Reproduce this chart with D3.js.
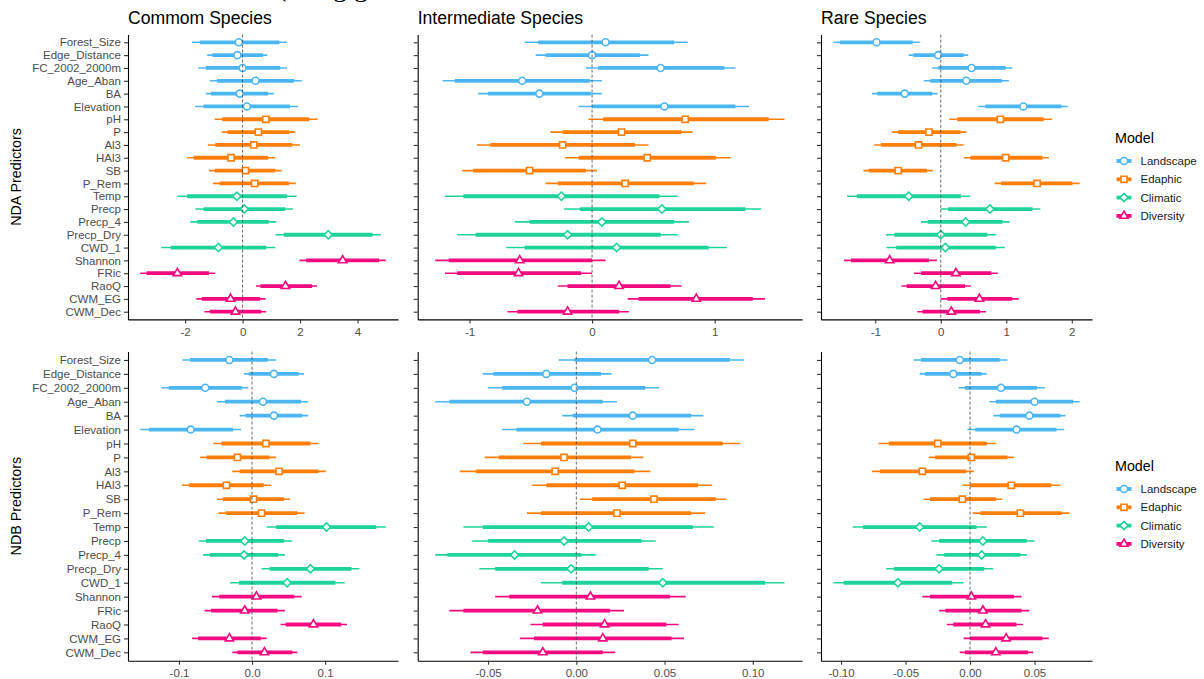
<!DOCTYPE html>
<html>
<head>
<meta charset="utf-8">
<script src="https://cdn.jsdelivr.net/npm/d3@7"></script>
<style>
body { margin: 0; background: #fff; }
svg { display: block; font-family: "Liberation Sans", Arial, sans-serif; }
</style>
</head>
<body>
<svg id="chart" width="1204" height="679"></svg>
<script>
/* globals d3 */

var predictors = ["Forest_Size","Edge_Distance","FC_2002_2000m","Age_Aban","BA","Elevation",
	"pH","P","Al3","HAl3","SB","P_Rem",
	"Temp","Precp","Precp_4","Precp_Dry","CWD_1",
	"Shannon","FRic","RaoQ","CWM_EG","CWM_Dec"];
var models = ["Landscape","Edaphic","Climatic","Diversity"];
var predictorModel = [0,0,0,0,0,0, 1,1,1,1,1,1, 2,2,2,2,2, 3,3,3,3,3];
var speciesTitles = ["Commom Species","Intermediate Species","Rare Species"];
var responseTitles = ["NDA Predictors","NDB Predictors"];

// each row: [low 95%, low 50%, estimate, high 50%, high 95%]
var ndaCommon = [
	[-1.76,-1.49,-0.13,1.28,1.54],[-1.23,-1.05,-0.18,0.71,0.86],[-1.54,-1.28,0.00,1.31,1.54],
	[-1.14,-0.89,0.45,1.79,2.06],[-1.28,-1.10,-0.10,0.89,1.09],[-1.65,-1.36,0.15,1.65,1.93],
	[-0.97,-0.71,0.81,2.32,2.61],[-0.72,-0.52,0.55,1.63,1.84],[-1.21,-0.95,0.39,1.73,2.00],
	[-1.94,-1.70,-0.40,0.89,1.14],[-1.17,-0.96,0.10,1.14,1.36],[-1.03,-0.80,0.42,1.61,1.85],
	[-2.27,-1.93,-0.20,1.54,1.88],[-1.64,-1.36,0.06,1.48,1.75],[-1.82,-1.57,-0.32,0.91,1.17],
	[1.14,1.43,2.98,4.52,4.81],[-2.83,-2.50,-0.84,0.82,1.14],
	[1.98,2.21,3.48,4.75,4.98],[-3.56,-3.34,-2.27,-1.17,-0.95],[0.47,0.62,1.49,2.42,2.59],
	[-1.61,-1.42,-0.42,0.61,0.80],[-1.33,-1.14,-0.25,0.65,0.82]
];
var ndaInter = [
	[-0.55,-0.44,0.11,0.67,0.78],[-0.46,-0.38,0.00,0.39,0.46],[-0.05,0.05,0.56,1.08,1.17],
	[-1.22,-1.12,-0.57,-0.02,0.08],[-0.93,-0.85,-0.43,-0.01,0.08],[-0.11,0.00,0.59,1.17,1.28],
	[-0.03,0.09,0.76,1.44,1.57],[-0.34,-0.24,0.24,0.73,0.82],[-0.94,-0.83,-0.24,0.35,0.46],
	[-0.22,-0.11,0.45,1.01,1.13],[-1.06,-0.97,-0.51,-0.05,0.04],[-0.38,-0.28,0.27,0.83,0.93],
	[-1.20,-1.05,-0.25,0.55,0.70],[-0.23,-0.10,0.57,1.25,1.38],[-0.63,-0.51,0.08,0.67,0.79],
	[-1.10,-0.95,-0.20,0.56,0.70],[-0.70,-0.55,0.20,0.95,1.10],
	[-1.28,-1.17,-0.59,0.00,0.11],[-1.20,-1.10,-0.60,-0.09,0.00],[-0.28,-0.20,0.22,0.64,0.73],
	[0.29,0.38,0.85,1.31,1.41],[-0.69,-0.61,-0.20,0.22,0.30]
];
var ndaRare = [
	[-1.64,-1.54,-0.98,-0.43,-0.32],[-0.49,-0.42,-0.04,0.35,0.42],[-0.13,-0.04,0.47,0.99,1.09],
	[-0.26,-0.16,0.39,0.93,1.04],[-1.05,-0.97,-0.55,-0.13,-0.05],[0.57,0.68,1.26,1.84,1.94],
	[0.13,0.25,0.91,1.57,1.70],[-0.75,-0.65,-0.18,0.30,0.39],[-1.02,-0.91,-0.34,0.24,0.35],
	[0.35,0.45,0.99,1.55,1.65],[-1.18,-1.10,-0.65,-0.21,-0.12],[0.82,0.92,1.47,2.01,2.12],
	[-1.43,-1.28,-0.49,0.31,0.45],[0.00,0.11,0.75,1.40,1.52],[-0.30,-0.20,0.38,0.94,1.05],
	[-0.84,-0.71,0.00,0.71,0.84],[-0.83,-0.68,0.07,0.84,0.98],
	[-1.48,-1.37,-0.78,-0.18,-0.06],[-0.41,-0.30,0.23,0.77,0.87],[-0.60,-0.52,-0.08,0.37,0.46],
	[0.00,0.10,0.59,1.09,1.19],[-0.36,-0.28,0.16,0.60,0.69]
];
var ndbCommon = [
	[-0.095,-0.085,-0.031,0.022,0.033],[-0.011,-0.004,0.030,0.064,0.071],[-0.124,-0.114,-0.064,-0.014,-0.005],
	[-0.048,-0.037,0.015,0.067,0.077],[-0.017,-0.009,0.030,0.069,0.077],[-0.153,-0.141,-0.084,-0.026,-0.015],
	[-0.053,-0.042,0.019,0.080,0.091],[-0.071,-0.062,-0.020,0.024,0.033],[-0.027,-0.017,0.037,0.091,0.101],
	[-0.096,-0.086,-0.035,0.016,0.026],[-0.048,-0.040,0.002,0.044,0.052],[-0.046,-0.036,0.013,0.062,0.072],
	[0.020,0.033,0.102,0.170,0.183],[-0.073,-0.063,-0.010,0.044,0.055],[-0.067,-0.058,-0.011,0.036,0.045],
	[0.013,0.024,0.080,0.136,0.147],[-0.030,-0.018,0.048,0.114,0.127],
	[-0.055,-0.045,0.006,0.058,0.068],[-0.065,-0.056,-0.010,0.035,0.045],[0.039,0.046,0.084,0.122,0.130],
	[-0.082,-0.074,-0.031,0.012,0.020],[-0.027,-0.020,0.017,0.055,0.062]
];
var ndbInter = [
	[-0.010,-0.001,0.043,0.087,0.095],[-0.053,-0.047,-0.017,0.014,0.020],[-0.050,-0.042,-0.001,0.039,0.047],
	[-0.080,-0.072,-0.028,0.015,0.023],[-0.008,-0.002,0.032,0.065,0.072],[-0.042,-0.034,0.012,0.058,0.067],
	[-0.030,-0.020,0.032,0.083,0.093],[-0.052,-0.044,-0.007,0.031,0.038],[-0.066,-0.057,-0.012,0.033,0.042],
	[-0.025,-0.017,0.026,0.069,0.077],[0.002,0.009,0.044,0.079,0.085],[-0.028,-0.020,0.023,0.065,0.073],
	[-0.064,-0.053,0.007,0.066,0.078],[-0.059,-0.050,-0.007,0.037,0.045],[-0.080,-0.073,-0.035,0.003,0.011],
	[-0.055,-0.046,-0.003,0.041,0.049],[-0.020,-0.008,0.049,0.107,0.118],
	[-0.046,-0.038,0.008,0.053,0.062],[-0.072,-0.064,-0.022,0.019,0.027],[-0.026,-0.019,0.016,0.051,0.058],
	[-0.032,-0.024,0.015,0.054,0.061],[-0.060,-0.053,-0.019,0.015,0.022]
];
var ndbRare = [
	[-0.044,-0.038,-0.008,0.023,0.029],[-0.039,-0.035,-0.013,0.009,0.013],[-0.009,-0.004,0.024,0.052,0.058],
	[0.015,0.020,0.050,0.080,0.085],[0.018,0.023,0.046,0.070,0.074],[-0.002,0.004,0.036,0.067,0.073],
	[-0.071,-0.063,-0.025,0.013,0.020],[-0.032,-0.027,0.001,0.029,0.034],[-0.076,-0.070,-0.037,-0.003,0.003],
	[-0.006,0.000,0.032,0.063,0.070],[-0.036,-0.031,-0.006,0.020,0.025],[0.002,0.008,0.039,0.071,0.077],
	[-0.091,-0.083,-0.039,0.005,0.013],[-0.030,-0.024,0.010,0.044,0.050],[-0.026,-0.020,0.009,0.039,0.044],
	[-0.065,-0.059,-0.024,0.011,0.018],[-0.106,-0.098,-0.056,-0.014,-0.005],
	[-0.037,-0.031,0.001,0.034,0.040],[-0.024,-0.019,0.010,0.040,0.046],[-0.018,-0.013,0.012,0.036,0.041],
	[-0.005,0.000,0.028,0.056,0.061],[-0.008,-0.004,0.020,0.045,0.049]
];

// x tick values per panel
var ticksNdaCommon = [-2,0,2,4];
var ticksNdaInter = [-1,0,1];
var ticksNdaRare = [-1,0,1,2];
var ticksNdbCommon = [-0.1,0,0.1];
var ticksNdbInter = [-0.05,0,0.05,0.10];
var ticksNdbRare = [-0.10,-0.05,0,0.05];

var panels = [
	{data: ndaCommon, ticks: ticksNdaCommon, fmt: ".0f", row: 0, col: 0},
	{data: ndaInter,  ticks: ticksNdaInter,  fmt: ".0f", row: 0, col: 1},
	{data: ndaRare,   ticks: ticksNdaRare,   fmt: ".0f", row: 0, col: 2},
	{data: ndbCommon, ticks: ticksNdbCommon, fmt: ".1f", row: 1, col: 0},
	{data: ndbInter,  ticks: ticksNdbInter,  fmt: ".2f", row: 1, col: 1},
	{data: ndbRare,   ticks: ticksNdbRare,   fmt: ".2f", row: 1, col: 2}
];

// layout (pixels)
var colX = [[128,398],[417.7,802],[821,1092]];
var rowY = [[34.6,319.4],[351.6,660.7]];
var legendTop = [138,466];

var modelColors = ["#4DB6F2","#FF7F0A","#1ED49A","#F50A80"];
var modelShapes = [d3.symbolCircle, d3.symbolSquare, d3.symbolSquare, d3.symbolTriangle];
var shapeSizes = [38, 38, 34, 30];
var shapeRotate = [0, 0, 45, 0];

var svg = d3.select("#chart");
var FONT = "'Liberation Sans', Arial, sans-serif";

function minusFmt(spec) {
	var f = d3.format(spec);
	return function(d) { return f(d).replace("\u2212","-"); };
}

// heading of the page above, cut by the crop of the figure
svg.append("text").attr("x", 277).attr("y", -4)
	.attr("font-family", "'Liberation Serif', 'Times New Roman', serif")
	.attr("font-size", 28).attr("fill", "#000")
	.text("(using g");

panels.forEach(function(p) {
	var x0 = colX[p.col][0], x1 = colX[p.col][1];
	var y0 = rowY[p.row][0], y1 = rowY[p.row][1];

	var ext = d3.extent(d3.merge(p.data));
	var pad = (ext[1] - ext[0]) * 0.05;
	var x = d3.scaleLinear().domain([ext[0] - pad, ext[1] + pad]).range([x0, x1]);
	var y = d3.scalePoint().domain(predictors).range([y0, y1]).padding(0.6);

	var g = svg.append("g");

	// axes
	var yAxis = d3.axisLeft(y).tickSize(4).tickPadding(3).tickSizeOuter(0);
	if (p.col > 0) yAxis.tickFormat("");
	var ya = g.append("g").attr("transform", "translate(" + x0 + ",0)").call(yAxis)
		.attr("font-size", 11.5).attr("font-family", FONT);
	var xAxis = d3.axisBottom(x).tickValues(p.ticks).tickFormat(minusFmt(p.fmt))
		.tickSize(4).tickPadding(4).tickSizeOuter(0);
	var xa = g.append("g").attr("transform", "translate(0," + y1 + ")").call(xAxis)
		.attr("font-size", 11.5).attr("font-family", FONT);
	[ya, xa].forEach(function(a) {
		a.select(".domain").attr("stroke", "#000").attr("stroke-width", 1.1);
		a.selectAll(".tick line").attr("stroke", "#333").attr("stroke-width", 1.1);
		a.selectAll(".tick text").attr("fill", "#4D4D4D");
	});

	var rows = g.append("g").selectAll("g").data(p.data).join("g")
		.attr("transform", function(d, i) { return "translate(0," + y(predictors[i]) + ")"; });

	// 95% interval
	rows.append("line")
		.attr("x1", function(d) { return x(d[0]); })
		.attr("x2", function(d) { return x(d[4]); })
		.attr("stroke", function(d, i) { return modelColors[predictorModel[i]]; })
		.attr("stroke-width", 1.6);
	// 50% interval
	rows.append("line")
		.attr("x1", function(d) { return x(d[1]); })
		.attr("x2", function(d) { return x(d[3]); })
		.attr("stroke", function(d, i) { return modelColors[predictorModel[i]]; })
		.attr("stroke-width", 3.8);

	// zero reference
	g.append("line")
		.attr("x1", x(0)).attr("x2", x(0)).attr("y1", y0).attr("y2", y1)
		.attr("stroke", "#444").attr("stroke-width", 0.8).attr("stroke-dasharray", "3,2");

	// estimates
	rows.append("path")
		.attr("transform", function(d, i) {
			return "translate(" + x(d[2]) + ",0) rotate(" + shapeRotate[predictorModel[i]] + ")";
		})
		.attr("d", function(d, i) {
			var m = predictorModel[i];
			return d3.symbol().type(modelShapes[m]).size(shapeSizes[m])();
		})
		.attr("fill", "#fff")
		.attr("stroke", function(d, i) { return modelColors[predictorModel[i]]; })
		.attr("stroke-width", 1.6);

	if (p.row === 0) {
		svg.append("text").attr("x", x0).attr("y", 23.5)
			.attr("font-size", 17.6).attr("font-family", FONT).attr("fill", "#000")
			.text(speciesTitles[p.col]);
	}
	if (p.col === 0) {
		svg.append("text")
			.attr("transform", "translate(21," + ((y0 + y1) / 2) + ") rotate(-90)")
			.attr("text-anchor", "middle")
			.attr("font-size", 14.3).attr("font-family", FONT).attr("fill", "#000")
			.text(responseTitles[p.row]);
	}
});

// legends
legendTop.forEach(function(top) {
	var lg = svg.append("g").attr("transform", "translate(1115," + top + ")");
	lg.append("text").attr("x", 0).attr("y", 5)
		.attr("font-size", 14.3).attr("font-family", FONT).attr("fill", "#000")
		.text("Model");
	var items = lg.selectAll("g.item").data(models).join("g")
		.attr("class", "item")
		.attr("transform", function(d, i) { return "translate(0," + (23 + i * 18.3) + ")"; });
	items.append("line").attr("x1", 1.5).attr("x2", 16.5)
		.attr("stroke", function(d, i) { return modelColors[i]; })
		.attr("stroke-width", 3.8);
	items.append("path")
		.attr("transform", function(d, i) { return "translate(9,0) rotate(" + shapeRotate[i] + ")"; })
		.attr("d", function(d, i) { return d3.symbol().type(modelShapes[i]).size(shapeSizes[i])(); })
		.attr("fill", "#fff")
		.attr("stroke", function(d, i) { return modelColors[i]; })
		.attr("stroke-width", 1.6);
	items.append("text").attr("x", 25.5).attr("y", 0).attr("dy", "0.35em")
		.attr("font-size", 11.5).attr("font-family", FONT).attr("fill", "#1a1a1a")
		.text(function(d) { return d; });
});
</script>
</body>
</html>
